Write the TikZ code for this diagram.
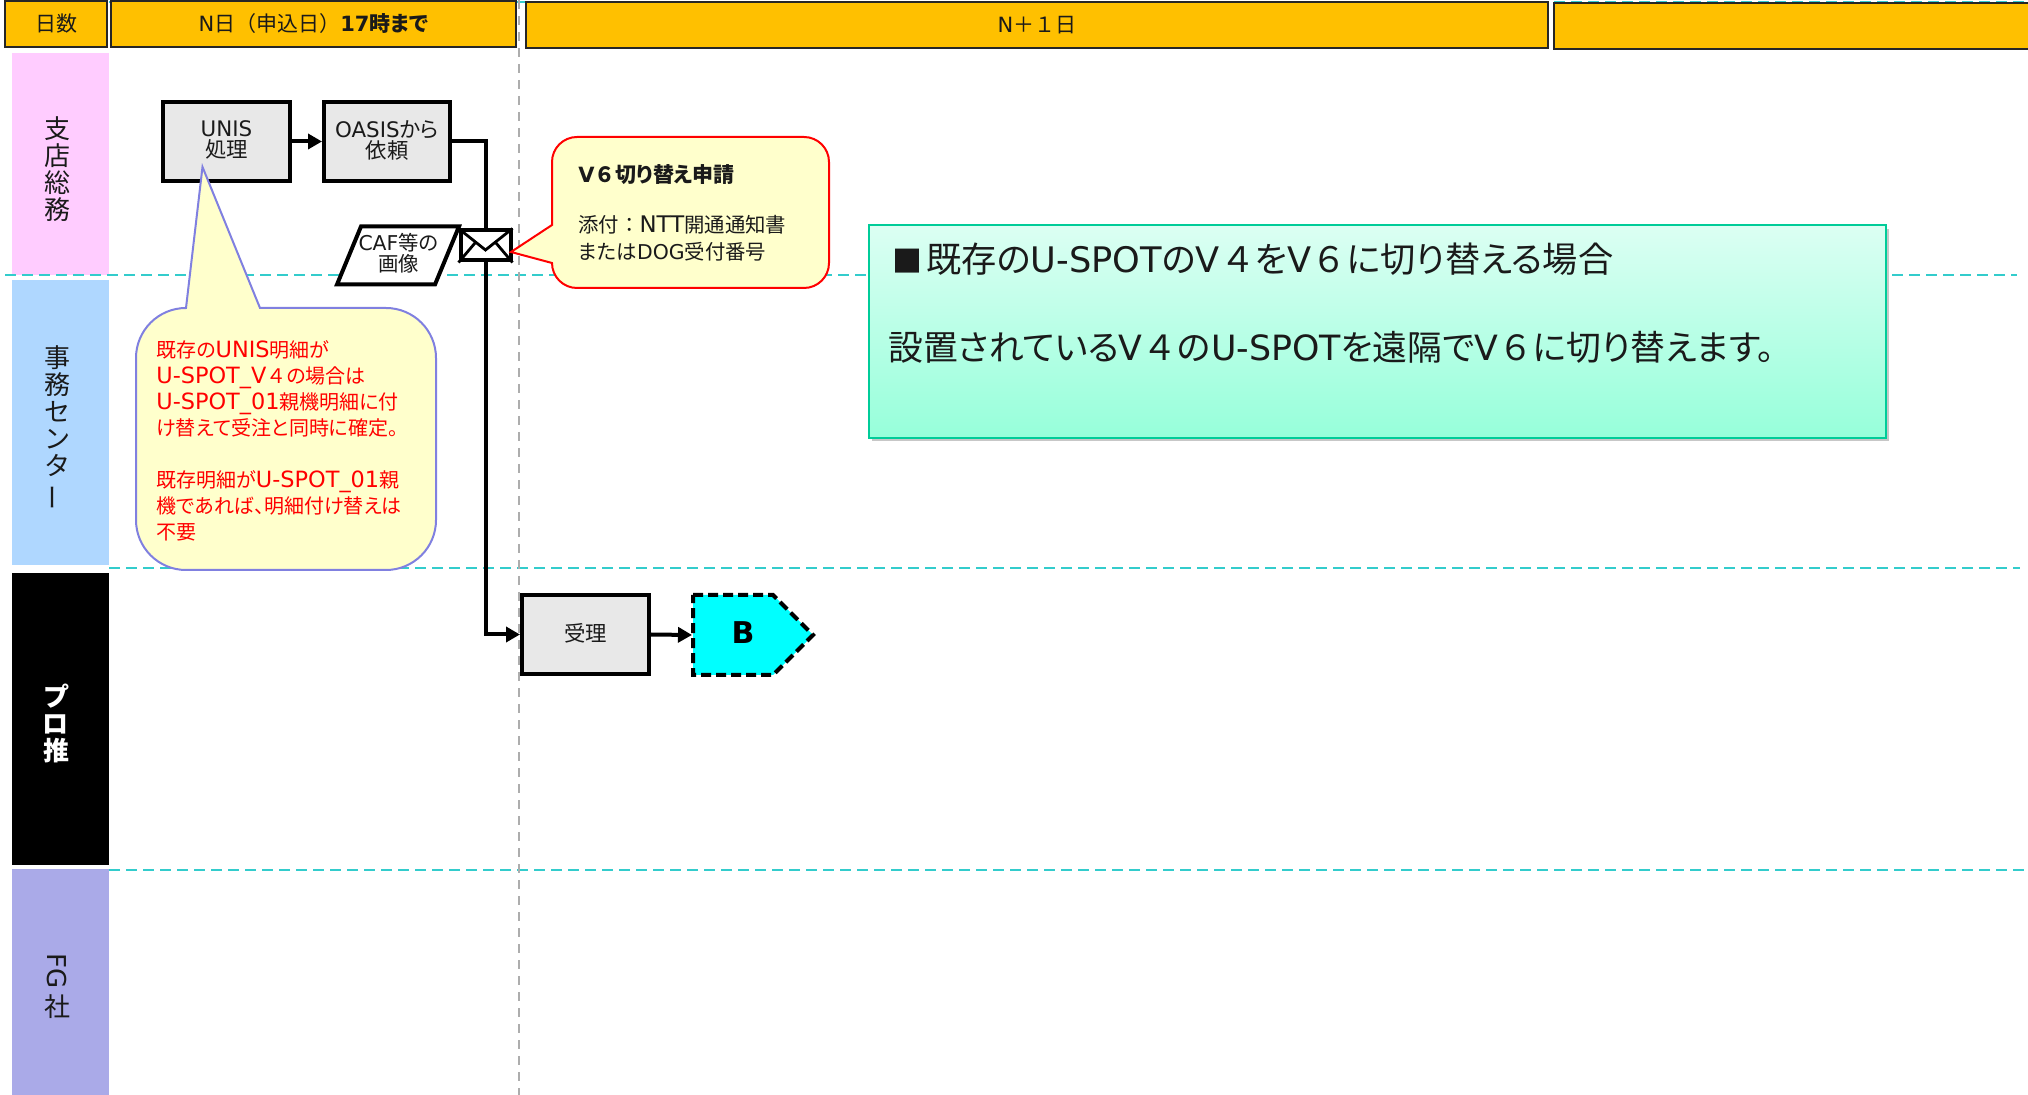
\documentclass[tikz,border=0pt]{standalone}
\usepackage{fontspec}
\usepackage{graphicx}
\usetikzlibrary{arrows.meta,calc}
\setmainfont[RawFeature=+palt]{Noto Sans CJK JP}
\newfontfamily\vd{DejaVu Sans}
\newfontfamily\vdb[Scale=1.12]{DejaVu Sans}
\newfontfamily\fw{Noto Sans CJK JP}
\newcommand{\lat}[1]{{\vd #1}}
\newcommand{\latb}[1]{{\vdb #1}}
\newcommand{\fwc}[1]{{\fw #1}}
\newcommand{\vbar}{\rotatebox[origin=c]{90}{\fw ー}}
\newcommand{\up}{\rule[-2pt]{0pt}{0pt}}
\definecolor{hdrc}{HTML}{FFC000}
\definecolor{teal}{HTML}{33CCCC}
\definecolor{boxg}{HTML}{E8E8E8}
\definecolor{noteY}{HTML}{FFFFCC}
\definecolor{noteP}{HTML}{8080E0}
\definecolor{txtc}{HTML}{1A1A1A}
\tikzset{
  lanedash/.style={teal,line width=1pt,dash pattern=on 5.5pt off 3pt},
  vdash/.style={black!32,line width=1pt,dash pattern=on 4.5pt off 3.5pt},
  hdr/.style={draw=black!85,fill=hdrc,line width=.75pt,inner sep=0pt,text=txtc,font=\fontsize{10.5}{12}\selectfont},
  lane/.style={inner sep=0pt,text=txtc,align=center,font=\fontsize{13}{13.5}\selectfont},
  proc/.style={draw=black,fill=boxg,line width=2pt,inner sep=0pt,text=txtc,align=center,font=\fontsize{10.7}{10.5}\selectfont},
  flow/.style={line width=2pt,draw=black,-{Triangle[length=7pt,width=7.5pt]}},
  wire/.style={line width=2pt,draw=black},
  txt/.style={inner sep=0pt,text=txtc,align=left,anchor=west},
  red note/.style={inner sep=0pt,text=red,align=left,anchor=north west,font=\fontsize{10}{13}\selectfont},
}
\begin{document}
\begin{tikzpicture}[x=0.5pt,y=-0.5pt]
\useasboundingbox (0,0) rectangle (2028,1095);
% lane backgrounds
\fill[fill={rgb,255:red,255;green,204;blue,255}] (12,53) rectangle (109,275);
\fill[fill={rgb,255:red,175;green,215;blue,255}] (12,280) rectangle (109,565);
\fill[black] (12,573) rectangle (109,865);
\fill[fill={rgb,255:red,170;green,170;blue,232}] (12,869) rectangle (109,1095);
% lane rules
\draw[lanedash] (109,2) -- (2028,2);
\draw[lanedash] (5,275) -- (2017,275);
\draw[lanedash] (109,568) -- (2020,568);
\draw[lanedash] (109,870) -- (2028,870);
\draw[vdash] (518.5,0) -- (518.5,1095);
% header
\node[hdr,minimum width=51pt,minimum height=23pt] (hdays) at (56,24) {\raisebox{-.6pt}{日数}};
\node[hdr,minimum width=202.5pt,minimum height=23pt] (hn) at (313.5,24) {\raisebox{-.6pt}{\lat{N}日\fwc{（}申込日\fwc{）}\textbf{\lat{17}時まで}}};
\node[hdr,minimum width=511pt,minimum height=23pt] (hn1) at (1037,25) {\raisebox{-.6pt}{\lat{N}\fwc{＋１}日}};
\node[hdr,minimum width=240pt,minimum height=23pt,anchor=west] (hlast) at (1553,26) {};
% lane labels
\node[lane] (l1) at (57,169) {支\\店\\総\\務};
\node[lane] (l2) at (57,428) {事\\務\\セ\\ン\\タ\\\vbar};
\node[lane,text=white,font=\fontsize{13}{13.5}\selectfont\bfseries] (l3) at (56,723) {プ\\ロ\\推};
\node[lane] (l4) at (57,986) {\rotatebox[origin=c]{-90}{\lat{FG}}\\[2pt]社};
% flow boxes
\node[proc,minimum width=63.5pt,minimum height=39.5pt] (unis) at (226.5,141.5) {\lat{UNIS}\\処理\up};
\node[proc,minimum width=63pt,minimum height=39.5pt] (oasis) at (387,141.5) {\lat{OASIS}から\\依頼\up};
\node[proc,minimum width=63.5pt,minimum height=39.5pt] (recv) at (585.5,634.5) {受理\up};
% B pentagon
\coordinate (bp1) at (693,595);
\fill[fill={rgb,255:red,0;green,255;blue,255}] (bp1) -- (773,595) -- (813,635) -- (773,675) -- (693,675) -- cycle;
\draw[line width=2pt,dash pattern=on 5pt off 2.5pt] (bp1) -- (773,595) -- (813,635) -- (773,675) -- (693,675) -- cycle;
\node[inner sep=0pt,font=\fontsize{15}{15}\selectfont\bfseries] (b) at (743,633) {\lat{B}};
\coordinate (bin) at (692,635);
% envelope
\node[draw=black,fill=white,line width=2pt,minimum width=25pt,minimum height=15pt,inner sep=0pt] (env) at (485.5,245.5) {};
\draw[line width=1.4pt] (env.north west) -- (485.5,250) -- (env.north east);
\draw[line width=1.4pt] (env.south west) -- (475,243);
\draw[line width=1.4pt] (env.south east) -- (496,243);
% connectors
\draw[flow] (unis.east) -- (oasis.west);
\draw[wire] (oasis.east) -| (env.north);
\draw[flow] (env.south) |- (recv.west);
\draw[flow] (recv.east) -- (bin);
% CAF parallelogram
\draw[line width=2pt,fill=white,line join=miter] (361,226.5) -- (459,226.5) -- (435,284.5) -- (337,284.5) -- cycle;
\node[inner sep=0pt,align=center,text=txtc,font=\fontsize{10.2}{10.5}\selectfont] (caf) at (398.5,253) {\lat{CAF}等の\\画像};
% red callout
\draw[red,line width=1pt,fill=noteY] (552,225) -- (552,162) arc[start angle=180,end angle=270,radius=25] -- (804,137) arc[start angle=270,end angle=360,radius=25] -- (829,263) arc[start angle=0,end angle=90,radius=25] -- (577,288) arc[start angle=90,end angle=180,radius=25] -- (552,263) -- (511,252) -- cycle;
\node[txt,font=\fontsize{10.5}{12}\selectfont\bfseries] (n1a) at (578,175) {\lat{V}\fwc{６}切り替え申請};
\node[txt,font=\fontsize{10.2}{12}\selectfont] (n1b) at (578,225) {添付\fwc{：}\latb{NTT}開通通知書};
\node[txt,font=\fontsize{10.2}{12}\selectfont] (n1c) at (578,252) {または\lat{DOG}受付番号};
% purple callout
\draw[noteP,line width=1pt,fill=noteY] (186,308) -- (202.5,167) -- (260,308) -- (386,308) arc[start angle=270,end angle=360,radius=50] -- (436,520) arc[start angle=0,end angle=90,radius=50] -- (186,570) arc[start angle=90,end angle=180,radius=50] -- (136,358) arc[start angle=180,end angle=270,radius=50] -- cycle;
\node[red note] (n2) at (156,340) {既存の\latb{UNIS}明細が\\\latb{U-SPOT\_V}\fwc{４}の場合は\\\latb{U-SPOT\_01}親機明細に付\\け替えて受注と同時に確定。\\[13pt]既存明細が\latb{U-SPOT\_01}親\\機であれば、明細付け替えは\\不要};
% green info box
\fill[black!22] (872,229) rectangle (1889,441);
\draw[draw={rgb,255:red,0;green,204;blue,153},line width=1pt,top color={rgb,255:red,220;green,255;blue,243},bottom color={rgb,255:red,150;green,255;blue,218}] (869,225) rectangle (1886,438);
\node[txt,font=\fontsize{17.6}{22}\selectfont] (g1) at (892,259) {{\fontsize{15}{22}\selectfont\fwc{■}}\hspace{2pt}既存の\lat{U-SPOT}の\lat{V}\fwc{４}を\lat{V}\fwc{６}に切り替える場合};
\node[txt,font=\fontsize{17.4}{22}\selectfont] (g2) at (888,347) {設置されている\lat{V}\fwc{４}の\lat{U-SPOT}を遠隔で\lat{V}\fwc{６}に切り替えます。};
\end{tikzpicture}
\end{document}
